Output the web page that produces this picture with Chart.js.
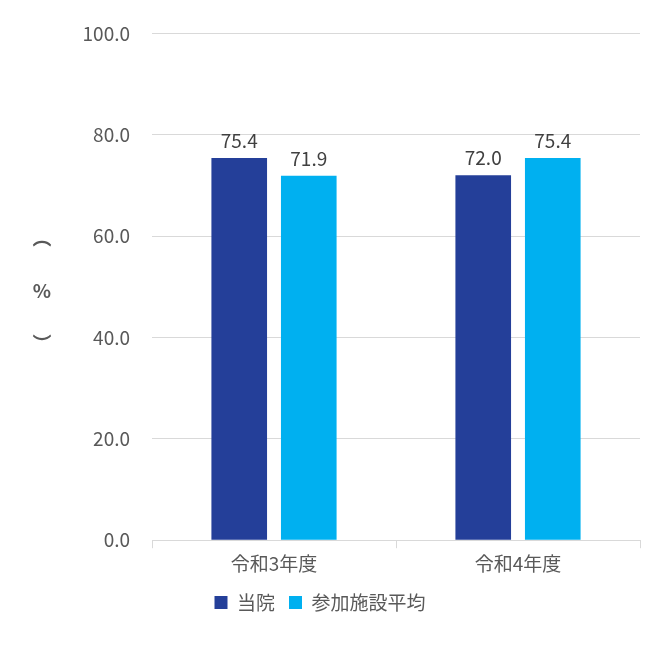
<!DOCTYPE html>
<html><head><meta charset="utf-8">
<script src="https://cdn.jsdelivr.net/npm/chart.js@4"></script>
<style>html,body{margin:0;padding:0;background:#fff}#w{width:663px;height:648px}</style>
</head><body><div id="w"><canvas id="c"></canvas></div>
<script>
const categories = ['令和3年度','令和4年度'];
const hospital = [75.4, 72.0];
const average = [71.9, 75.4];
const seriesNames = ['当院','参加施設平均'];
const yTitle = ['︵','%','︶'];
const F = "'Noto Sans CJK JP','Noto Sans',sans-serif";
const labelPlugin = {
  id:'lbl',
  afterDatasetsDraw(chart){
    const ctx = chart.ctx;
    ctx.save();
    ctx.font = '19px '+F; ctx.fillStyle='#404040'; ctx.textAlign='center'; ctx.textBaseline='bottom';
    chart.data.datasets.forEach((ds,i)=>{
      chart.getDatasetMeta(i).data.forEach((b,j)=>{
        ctx.fillText(ds.data[j].toFixed(1), b.x, b.y-8);
      });
    });
    ctx.fillStyle='#595959'; ctx.textBaseline='middle';
    ctx.font='bold 19px '+F;
    ctx.fillText(yTitle[0],42,238);
    ctx.fillText(yTitle[1],42,291);
    ctx.fillText(yTitle[2],42,344);
    ctx.restore();
  }
};
new Chart(document.getElementById('c'),{
  type:'bar',
  data:{labels:categories,datasets:[
    {label:seriesNames[0],data:hospital,backgroundColor:'#243F99',categoryPercentage:0.57,barPercentage:0.8},
    {label:seriesNames[1],data:average,backgroundColor:'#00B0F0',categoryPercentage:0.57,barPercentage:0.8}
  ]},
  options:{
    responsive:true,maintainAspectRatio:false,animation:false,
    layout:{padding:{top:8,right:23,left:0,bottom:26}},
    plugins:{legend:{position:'bottom',labels:{boxWidth:13,boxHeight:13,font:{size:19,family:F},color:'#595959',padding:14}},tooltip:{enabled:false}},
    scales:{
      x:{grid:{offset:true,drawOnChartArea:false,drawTicks:true,tickLength:8,color:'#d9d9d9'},border:{color:'#d9d9d9'},
         ticks:{font:{size:19,family:F},color:'#595959',padding:4}},
      y:{min:0,max:100,afterFit(s){s.width=152;},
         ticks:{stepSize:20,callback:v=>v.toFixed(1),font:{size:19,family:F},color:'#595959',padding:22},
         grid:{color:'#d9d9d9',drawTicks:false},border:{display:false}}
    }
  },
  plugins:[labelPlugin]
});
</script></body></html>
